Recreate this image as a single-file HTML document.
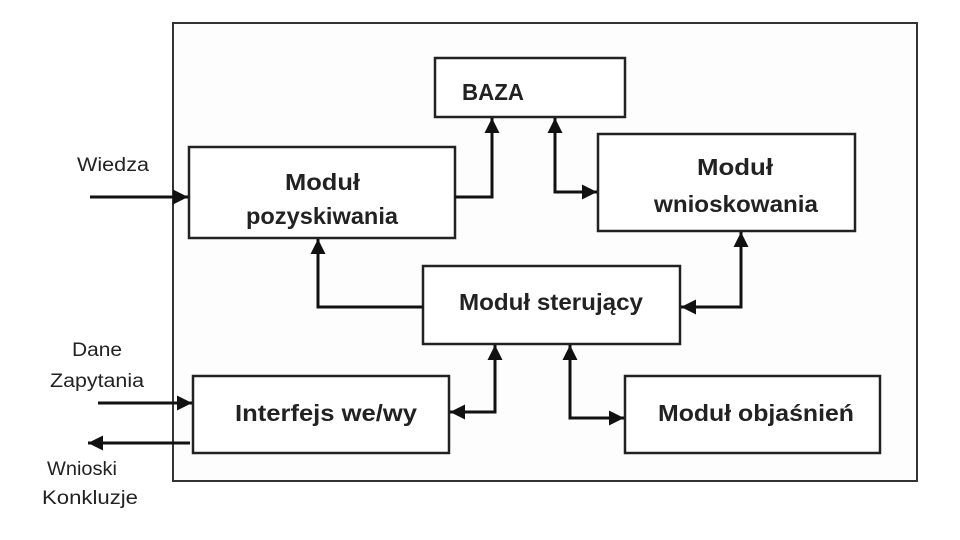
<!DOCTYPE html>
<html><head><meta charset="utf-8"><style>
html,body{margin:0;padding:0;background:#fff;}
svg{display:block;}
text{font-family:"Liberation Sans",sans-serif;fill:#222;}
.b{font-weight:bold;font-size:23px;}
.l{font-size:19px;}
</style></head><body>
<svg width="960" height="540" viewBox="0 0 960 540" xmlns="http://www.w3.org/2000/svg">
<defs>
<marker id="a" viewBox="0 0 10 10" refX="10" refY="5" markerWidth="5.5" markerHeight="5" orient="auto-start-reverse" markerUnits="strokeWidth">
<path d="M0,0 L10,5 L0,10 z" fill="#111"/></marker>
</defs>
<rect x="0" y="0" width="960" height="540" fill="#fff"/>
<rect x="173" y="23" width="744" height="458" fill="#fdfdfd" stroke="#333" stroke-width="2"/>
<g fill="#fff" stroke="#222" stroke-width="2.5">
<rect x="435" y="58" width="190" height="59"/>
<rect x="189" y="147" width="266" height="91"/>
<rect x="598" y="134" width="257" height="97"/>
<rect x="423" y="266" width="257" height="78"/>
<rect x="193" y="376" width="256" height="77"/>
<rect x="625" y="376" width="255" height="77"/>
</g>
<g fill="none" stroke="#111" stroke-width="3">
<polyline points="455,197 492,197 492,118" marker-end="url(#a)"/>
<polyline points="555,118 555,192 597,192" marker-start="url(#a)" marker-end="url(#a)"/>
<polyline points="741,232 741,307 681,307" marker-start="url(#a)" marker-end="url(#a)"/>
<polyline points="423,307 318,307 318,239" marker-end="url(#a)"/>
<polyline points="495,345 495,412 450,412" marker-start="url(#a)" marker-end="url(#a)"/>
<polyline points="570,345 570,418 624,418" marker-start="url(#a)" marker-end="url(#a)"/>
<line x1="90" y1="197" x2="188" y2="197" marker-end="url(#a)"/>
<line x1="98" y1="403" x2="192" y2="403" marker-end="url(#a)"/>
<line x1="190" y1="443" x2="88" y2="443" marker-end="url(#a)"/>
</g>
<text class="b" x="462" y="100" textLength="62" lengthAdjust="spacingAndGlyphs">BAZA</text>
<text class="b" x="285" y="190" textLength="75" lengthAdjust="spacingAndGlyphs">Moduł</text>
<text class="b" x="246" y="224" textLength="152" lengthAdjust="spacingAndGlyphs">pozyskiwania</text>
<text class="b" x="697" y="175" textLength="76" lengthAdjust="spacingAndGlyphs">Moduł</text>
<text class="b" x="654" y="212" textLength="164" lengthAdjust="spacingAndGlyphs">wnioskowania</text>
<text class="b" x="459" y="310" textLength="184" lengthAdjust="spacingAndGlyphs">Moduł sterujący</text>
<text class="b" x="235" y="421" textLength="182" lengthAdjust="spacingAndGlyphs">Interfejs we/wy</text>
<text class="b" x="658" y="421" textLength="196" lengthAdjust="spacingAndGlyphs">Moduł objaśnień</text>
<text class="l" x="77" y="171" textLength="72" lengthAdjust="spacingAndGlyphs">Wiedza</text>
<text class="l" x="72" y="356" textLength="50" lengthAdjust="spacingAndGlyphs">Dane</text>
<text class="l" x="50" y="387" textLength="94" lengthAdjust="spacingAndGlyphs">Zapytania</text>
<text class="l" x="47" y="475" textLength="70" lengthAdjust="spacingAndGlyphs">Wnioski</text>
<text class="l" x="42" y="504" textLength="96" lengthAdjust="spacingAndGlyphs">Konkluzje</text>
</svg>
</body></html>
